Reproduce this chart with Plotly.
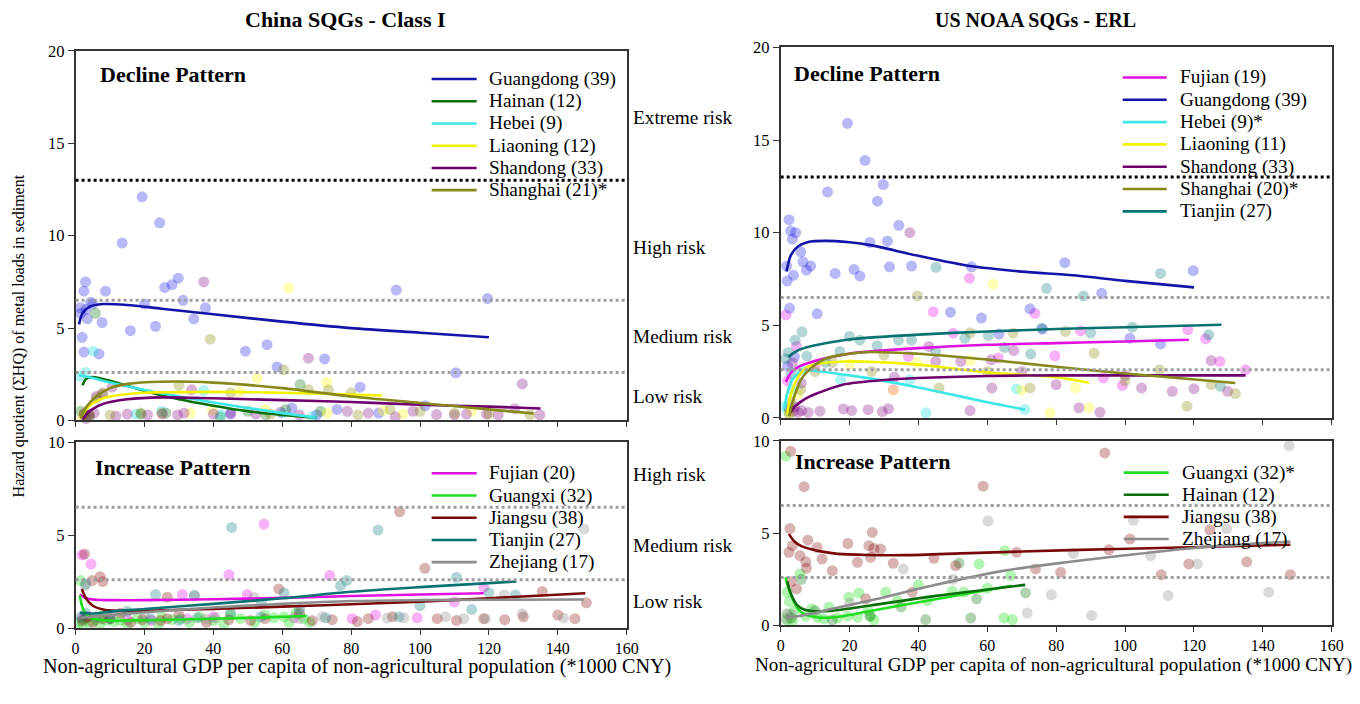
import plotly.graph_objects as go

W, H = 1360, 704          # browser window
OFF = 8                   # default body margin of the page
FIG_W, FIG_H = W - 2 * OFF, H - 2 * OFF
# measured mapping of the photographed page (window px -> picture px)
SX, BX = 0.988, 3.5
SY, BY = 0.976, 8.2
FONT = "Liberation Serif"

# ---------------- axes / labels ----------------
X_TICKS = [0, 20, 40, 60, 80, 100, 120, 140, 160]
Y_TICKS_TOP = [0, 5, 10, 15, 20]
Y_TICKS_BOT = [0, 5, 10]
EXTREME_LINE = 13
HIGH_LINE = 6.5
LOW_LINE = 2.6
RISK_LABELS_TOP = ["Extreme risk", "High risk", "Medium risk", "Low risk"]
RISK_LABELS_BOT = ["High risk", "Medium risk", "Low risk"]
TITLE_LEFT = "China SQGs - Class I"
TITLE_RIGHT = "US NOAA SQGs - ERL"
X_TITLE = "Non-agricultural GDP per capita of non-agricultural population (*1000 CNY)"
Y_TITLE = "Hazard quotient (ΣHQ) of metal loads in sediment"

# ---------------- China, decline pattern ----------------
cn_dec_guangdong_pts = [(19.3, 12.1), (24.4, 10.7), (13.5, 9.6), (2.9, 7.5), (2.4, 7.0), (8.7, 7.0), (25.9, 7.2),
                        (28, 7.35), (29.8, 7.7), (31.2, 6.5), (37.7, 6.1), (34.3, 5.5), (1.45, 6.1), (4.35, 6.4),
                        (3.4, 5.5), (1.9, 4.5), (2.4, 3.7), (6.8, 3.6), (7.7, 5.3), (15.9, 4.86), (23.2, 5.1),
                        (49.3, 3.75), (55.6, 4.1), (58.5, 2.9), (72.3, 3.33), (82.6, 1.8), (93.1, 7.06), (75.9, 0.6),
                        (62.8, 0.67), (119.6, 6.6), (110.4, 2.58), (101.5, 0.8), (1.5, 5.8), (3, 6.0), (20, 6.3),
                        (45, 0.35), (70, 0.3), (88, 0.4), (5, 6.3)]
cn_dec_guangdong_fit = [(1, 5.2), (2, 5.8), (4, 6.15), (8, 6.3), (15, 6.25), (25, 6.05), (40, 5.75), (60, 5.35),
                        (80, 5.0), (100, 4.75), (120, 4.5)]
cn_dec_hainan_pts = [(5.8, 5.8), (26.2, 0.4), (55.2, 0.3), (65.2, 1.95), (71.1, 0.5), (1.5, 0.5), (2.5, 0.3),
                     (4, 0.2), (19, 0.35), (42, 0.2), (61, 0.6), (50, 0.5)]
cn_dec_hainan_fit = [(2, 1.9), (3, 2.25), (5, 2.35), (10, 2.15), (20, 1.6), (30, 1.15), (40, 0.8), (50, 0.5),
                     (60, 0.3), (70, 0.15)]
cn_dec_hebei_pts = [(5.1, 3.75), (1.2, 2.4), (17.5, 0.35), (37.2, 1.62), (42.1, 0.3), (68.7, 0.2), (3, 2.6),
                    (25, 0.5), (60, 0.4)]
cn_dec_hebei_fit = [(1, 2.45), (5, 2.3), (10, 2.05), (20, 1.65), (30, 1.3), (40, 0.97), (50, 0.68), (60, 0.4),
                    (70, 0.15)]
cn_dec_liaoning_pts = [(61.9, 7.17), (52.7, 2.29), (47.6, 1.57), (73, 2.07), (33.4, 0.4), (39.7, 0.55), (73.1, 0.4),
                       (89.3, 0.53), (95, 0.35), (115, 0.5), (2, 0.2), (55, 0.6)]
cn_dec_liaoning_fit = [(1.5, 0.1), (3, 0.6), (6, 1.05), (10, 1.3), (20, 1.5), (40, 1.55), (60, 1.5), (80, 1.4),
                       (89, 1.35)]
cn_dec_shandong_pts = [(37.2, 7.5), (67.6, 3.37), (129.7, 1.98), (33.7, 1.66), (10.6, 1.8), (7.7, 1.44), (2.5, 0.35),
                       (4.0, 0.3), (5.4, 0.4), (11.7, 0.25), (20.9, 0.3), (25.2, 0.35), (29.6, 0.3), (31.5, 0.4),
                       (45, 0.4), (52.3, 0.35), (59.5, 0.45), (78.9, 0.5), (92.8, 0.2), (104.8, 0.32), (113.5, 0.35),
                       (119.3, 0.35), (122.7, 0.3), (127.5, 0.64), (134.8, 0.3), (3, 0.1), (6, 1.3), (15, 0.35),
                       (40, 0.35), (85, 0.4), (65, 0.3), (98, 0.5), (110, 0.3)]
cn_dec_shandong_fit = [(2, 0.05), (4, 0.5), (8, 0.9), (15, 1.15), (25, 1.25), (40, 1.2), (60, 1.1), (80, 1.0),
                       (100, 0.85), (120, 0.75), (135, 0.65)]
cn_dec_shanghai_pts = [(39.1, 4.4), (60.4, 2.74), (67.6, 1.67), (73.4, 1.66), (91.3, 0.6), (131.9, 0.3), (18.9, 0.4),
                       (56.6, 0.35), (2.5, 0.4), (4, 0.3), (6, 1.2), (8, 1.5), (10, 0.3), (25, 0.4), (30, 1.9),
                       (45, 1.5), (80, 1.5), (100, 0.5), (110, 0.4), (120, 0.35), (82, 0.3)]
cn_dec_shanghai_fit = [(1.5, 0.1), (3, 0.7), (6, 1.3), (10, 1.75), (15, 1.98), (25, 2.1), (40, 2.05), (60, 1.75),
                       (80, 1.3), (100, 0.95), (120, 0.6), (133, 0.38)]

# ---------------- US, decline pattern ----------------
us_dec_fujian_pts = [(1.55, 5.56), (44.3, 5.74), (54.8, 7.54), (73.8, 5.65), (37.1, 3.32), (4.6, 3.86), (87.1, 4.7),
                     (118.2, 4.76), (123.4, 4.27), (127.5, 3.05), (135, 2.6), (93.7, 2.16), (99.2, 1.76), (50.1, 4.58),
                     (63.2, 3.24), (32.7, 1.53), (79.6, 3.36), (2, 2.0), (10, 2.8)]
us_dec_fujian_fit = [(1.5, 1.95), (3, 2.45), (5, 2.75), (8.5, 3.0), (15, 3.3), (21, 3.5), (40, 3.77), (60, 3.95),
                     (80, 4.04), (100, 4.13), (118.5, 4.22)]
us_dec_guangdong_pts = [(19.4, 15.9), (24.5, 13.9), (29.8, 12.6), (13.6, 12.2), (28.1, 11.7), (2.4, 10.7), (2.9, 10.1),
                        (4.35, 10.0), (3.4, 9.65), (34.3, 10.4), (25.9, 9.47), (31, 9.54), (5.8, 8.97), (6.5, 8.43),
                        (7.5, 7.98), (8.7, 8.2), (1.74, 8.2), (1.9, 7.39), (3.7, 7.7), (15.8, 7.8), (21.3, 8.02),
                        (23, 7.66), (31.6, 8.16), (38, 8.2), (55.4, 8.16), (82.5, 8.38), (2.6, 5.92), (10.6, 5.62),
                        (49.3, 5.71), (58.3, 5.39), (72.4, 5.89), (76, 4.8), (63.4, 4.53), (119.8, 7.95), (93.2, 6.73),
                        (101.4, 4.31), (110.3, 4.0), (2, 2.8), (4, 3.3)]
us_dec_guangdong_fit = [(1.7, 7.9), (3, 8.8), (5, 9.25), (8, 9.5), (13, 9.56), (20, 9.48), (26, 9.33), (40, 8.75),
                        (55, 8.2), (70, 7.9), (85, 7.7), (100, 7.4), (120, 7.05)]
us_dec_hebei_pts = [(42.2, 0.28), (68.5, 1.57), (70.9, 0.46), (1.3, 0.64), (37.5, 2.07), (3.4, 1.53), (17.4, 2.07),
                    (2, 0.4), (6, 2.6)]
us_dec_hebei_fit = [(1, 0.5), (2, 1.4), (3.5, 2.1), (5.5, 2.45), (7.5, 2.57), (12, 2.5), (20, 2.3), (28, 2.07),
                    (40, 1.65), (50, 1.25), (60, 0.85), (71, 0.45)]
us_dec_liaoning_pts = [(61.7, 7.22), (78.2, 0.28), (89.5, 0.55), (85.6, 1.62), (39.5, 3.0), (32.7, 1.5), (2.5, 0.3),
                       (5, 1.3), (20, 2.9), (55, 3.1), (70, 1.5)]
us_dec_liaoning_fit = [(1.9, 0.2), (3, 1.3), (4.6, 2.05), (6, 2.45), (8.5, 2.82), (18, 3.05), (30, 3.0), (40, 2.88),
                       (60, 2.46), (80, 2.2), (89.5, 1.9)]
us_dec_shandong_pts = [(3.7, 0.37), (5.1, 0.3), (6.1, 0.4), (11.4, 0.37), (18.2, 0.49), (20.6, 0.4), (25.4, 0.45),
                       (29.5, 0.35), (31.3, 0.5), (37.5, 10.0), (61.3, 1.62), (67.7, 3.63), (61.1, 3.14), (43, 3.86),
                       (52.3, 3.05), (45, 3.05), (104.8, 1.62), (113.7, 1.44), (120, 1.58), (129.8, 1.44),
                       (86.6, 0.55), (92.7, 0.31), (3.4, 2.97), (6, 1.89), (2.5, 0.5), (4, 0.6), (8, 0.3), (33, 2.2),
                       (70, 2.5), (100, 2.3), (125, 3.1), (80, 1.8), (55, 0.4)]
us_dec_shandong_fit = [(2.7, 0.3), (4, 0.6), (6, 0.9), (8.5, 1.17), (13, 1.5), (18, 1.8), (30, 2.05), (40, 2.16),
                       (60, 2.27), (80, 2.3), (100, 2.3), (135, 2.3)]
us_dec_shanghai_pts = [(39.7, 6.59), (46, 1.62), (26.4, 2.52), (72.4, 1.62), (67.5, 4.58), (91, 3.5), (118, 0.64),
                       (132, 1.32), (82.7, 4.67), (5.8, 1.53), (3, 0.9), (2.5, 0.2), (10, 2.5), (15, 3.0), (55, 4.6),
                       (100, 2.0), (110, 2.6), (60, 2.5), (30, 3.4), (125, 1.8)]
us_dec_shanghai_fit = [(2.5, 0.1), (3.5, 0.9), (4.6, 1.5), (6, 2.1), (8.5, 2.64), (13, 3.2), (24, 3.55), (40, 3.47),
                       (60, 3.15), (80, 2.77), (100, 2.4), (132, 1.89)]
us_dec_tianjin_pts = [(45.1, 8.13), (77.2, 7.0), (6.2, 4.65), (4.2, 4.2), (2.2, 3.54), (7.6, 3.34), (17.2, 3.59),
                      (23, 4.2), (34.2, 4.2), (38, 4.2), (53.5, 4.3), (60.3, 4.45), (75.8, 4.85), (110.3, 7.8),
                      (102.1, 4.9), (87.9, 6.59), (124.3, 4.49), (127.7, 1.71), (72.6, 3.45), (28, 3.9), (13, 3.0),
                      (3, 2.4), (45, 3.6), (90, 4.6), (65, 3.8), (1.5, 3.2), (20, 4.4)]
us_dec_tianjin_fit = [(2.2, 3.3), (5, 3.65), (8.5, 3.86), (15, 4.1), (21, 4.26), (40, 4.5), (60, 4.67), (80, 4.8),
                      (100, 4.9), (128, 5.03)]

# ---------------- China, increase pattern ----------------
cn_inc_fujian_pts = [(1.9, 3.93), (4.5, 3.44), (54.7, 5.59), (44.5, 2.87), (73.8, 2.82), (31, 1.8), (49.8, 1.8),
                     (118.5, 2.2), (99.2, 0.55), (1.9, 0.5), (15, 0.45), (32.4, 0.5), (63.4, 0.55), (80.3, 0.5),
                     (87.1, 0.7), (3, 0.6), (10, 0.6), (22, 0.4), (40, 0.6), (110, 1.4)]
cn_inc_fujian_fit = [(1.2, 1.8), (3, 1.6), (6, 1.52), (10, 1.5), (20, 1.5), (40, 1.55), (60, 1.62), (80, 1.72),
                     (100, 1.8), (118.5, 1.87)]
cn_inc_guangxi_pts = [(1.45, 2.55), (5.8, 0.45), (11.1, 0.35), (13.1, 0.4), (17.9, 0.5), (28, 0.45), (30.5, 0.5),
                      (47.9, 0.5), (57.6, 0.55), (60.5, 0.6), (66.3, 0.5), (1, 0.3), (2, 0.2), (3, 0.5), (4, 0.3),
                      (7, 0.2), (9, 0.4), (15, 0.2), (20, 0.3), (24, 0.2), (33, 0.3), (36, 0.6), (40, 0.4), (43, 0.2),
                      (52, 0.3), (55, 0.7), (62, 0.3), (64, 0.8), (68, 0.3), (8, 0.7), (25, 0.6), (45, 0.7)]
cn_inc_guangxi_fit = [(1.2, 1.75), (2, 1.1), (3, 0.75), (5, 0.5), (10, 0.4), (20, 0.42), (40, 0.5), (55, 0.57),
                      (67, 0.65)]
cn_inc_jiangsu_pts = [(2.6, 3.98), (4.8, 2.55), (7.1, 2.76), (7.9, 2.5), (26.6, 1.66), (59, 2.1), (94.1, 6.25),
                      (101.4, 3.21), (135.5, 1.96), (148.3, 1.36), (110.6, 0.41), (118.5, 0.5), (124.6, 0.45),
                      (7.7, 0.5), (19.4, 0.45), (24.7, 0.4), (26.6, 0.5), (44.5, 0.45), (50.8, 0.4), (68.7, 0.4),
                      (74.5, 0.45), (81.8, 0.35), (2, 0.4), (3.5, 0.6), (5, 0.3), (10, 0.5), (13, 0.8), (16, 0.3),
                      (30, 0.7), (38, 0.3), (55, 0.5), (65, 0.8), (85, 0.5), (92, 0.6), (105, 0.5), (130, 0.6),
                      (140, 0.7), (145, 0.5)]
cn_inc_jiangsu_fit = [(1.8, 2.1), (3, 1.6), (5, 1.2), (8, 1.0), (12, 0.93), (20, 0.93), (40, 1.03), (60, 1.15),
                      (80, 1.28), (100, 1.42), (120, 1.6), (148, 1.87)]
cn_inc_tianjin_pts = [(45.3, 5.41), (87.8, 5.27), (110.6, 2.73), (78.7, 2.55), (76.9, 2.28), (23.2, 1.8), (34.5, 1.75),
                      (53.9, 1.36), (60.5, 1.89), (2.9, 2.37), (21.8, 0.5), (35.3, 0.55), (53.7, 0.6), (72.6, 0.55),
                      (93.9, 0.6), (127.7, 1.78), (3, 0.8), (6, 0.6), (10, 0.5), (15, 0.9), (30, 0.4), (45, 0.8),
                      (65, 1.0), (100, 1.2), (115, 1.0), (1.5, 0.6), (120, 1.9)]
cn_inc_tianjin_fit = [(1.2, 0.82), (5, 0.78), (10, 0.88), (20, 1.02), (40, 1.3), (60, 1.6), (80, 1.95), (100, 2.2),
                      (128, 2.5)]
cn_inc_zhejiang_pts = [(147.6, 5.32), (124.5, 1.78), (90.5, 0.54), (95.3, 0.55), (107.4, 0.6), (112.7, 0.5),
                       (129.7, 0.77), (141.7, 0.54), (37.7, 0.5), (40.6, 0.55), (71.6, 0.6), (51.8, 1.66),
                       (34.5, 1.75), (2.9, 2.3), (119, 0.5), (65, 0.5), (20, 0.6)]
cn_inc_zhejiang_fit = [(1.5, 0.55), (10, 0.7), (20, 0.85), (40, 1.1), (60, 1.3), (80, 1.45), (100, 1.5), (120, 1.52),
                       (147.6, 1.53)]

# ---------------- US, increase pattern ----------------
us_inc_guangxi_pts = [(1.45, 9.17), (57.6, 3.33), (65.1, 4.05), (66.8, 2.7), (5.6, 2.79), (1.9, 1.8), (19.8, 1.53),
                      (22.7, 1.76), (30.5, 1.8), (49.8, 1.85), (53.2, 1.8), (60, 2.02), (64.8, 0.4), (67.3, 0.32),
                      (1.9, 0.3), (3.5, 0.25), (7.3, 0.5), (10.6, 0.45), (12.6, 0.35), (16.5, 0.4), (19.4, 0.5),
                      (22.3, 0.45), (26.1, 0.5), (27.1, 0.3), (33.9, 1.35), (42.6, 1.35), (25.4, 0.81), (2.5, 1.3),
                      (4, 0.8), (9, 0.9), (14, 1.0), (40, 2.2)]
us_inc_guangxi_fit = [(1.4, 2.6), (2.5, 1.9), (3.9, 1.26), (5, 0.9), (6.8, 0.63), (11.6, 0.42), (18, 0.5),
                      (26, 0.78), (45, 1.42), (67, 2.15)]
us_inc_hainan_pts = [(51.8, 3.38), (71.1, 1.76), (56.9, 1.44), (42.1, 0.32), (55.2, 0.4), (25.9, 0.51), (6, 2.5),
                     (1.9, 0.63), (3, 0.4), (10, 0.8), (35, 1.0), (15, 0.3)]
us_inc_hainan_fit = [(1.9, 2.4), (3, 1.7), (4.8, 1.1), (7, 0.85), (10, 0.77), (15, 0.8), (26, 1.08), (45, 1.6),
                     (71, 2.2)]
us_inc_jiangsu_pts = [(2.9, 9.44), (6.8, 7.52), (58.8, 7.55), (2.7, 5.25), (7.9, 4.62), (10.6, 4.23), (2.4, 3.96),
                      (3.4, 4.32), (5.6, 3.78), (7.3, 3.45), (7.5, 3.1), (19.5, 4.44), (26.6, 5.04), (25.6, 4.32),
                      (27.1, 4.17), (29, 4.14), (26.1, 3.69), (15, 2.97), (22.3, 3.42), (32.7, 3.37), (44.5, 3.64),
                      (50.8, 3.24), (68.5, 3.96), (3.1, 2.37), (4.6, 1.98), (24.7, 1.44), (38.2, 1.8), (94.1, 9.35),
                      (95.3, 4.1), (101.4, 4.68), (124.6, 5.18), (118.5, 3.33), (110.5, 2.75), (135.3, 3.45),
                      (148, 2.75), (74, 3.06), (81.3, 2.88), (12, 3.6)]
us_inc_jiangsu_fit = [(2.4, 4.95), (4, 4.55), (6, 4.3), (8.7, 4.14), (12, 4.0), (16.5, 3.88), (25, 3.82), (36, 3.81),
                      (55, 3.92), (84, 4.08), (110, 4.2), (148, 4.37)]
us_inc_zhejiang_pts = [(60.2, 5.66), (35.6, 3.06), (71.6, 0.67), (78.6, 1.66), (147.6, 9.75), (102.4, 5.7),
                       (129.5, 5.25), (107.4, 3.78), (121, 3.33), (112.5, 1.62), (90.3, 0.54), (141.7, 1.8),
                       (1.45, 0.36), (3, 0.6), (20, 1.2), (50, 2.5), (85, 3.9)]
us_inc_zhejiang_fit = [(1.5, 0.45), (5, 0.5), (8.7, 0.63), (15, 0.9), (26, 1.35), (45, 2.2), (65, 2.97), (84, 3.45),
                       (100, 3.8), (120, 4.2), (148, 4.55)]

# ---------------- styles ----------------
LINE_COLORS = {
    "Fujian": "#e010e0", "Guangdong": "#1414a8", "Hainan": "#0a6e0a", "Hebei": "#3ee6e6",
    "Liaoning": "#f2f200", "Shandong": "#6e006e", "Shanghai": "#87871a", "Tianjin": "#0a7272",
    "Guangxi": "#20dd20", "Jiangsu": "#7a0808", "Zhejiang": "#8c8c8c",
}
POINT_RGB = {
    "Fujian": (230, 0, 230), "Guangdong": (20, 20, 230), "Hainan": (0, 110, 0), "Hebei": (0, 220, 220),
    "Liaoning": (255, 255, 0), "Shandong": (128, 0, 128), "Shanghai": (128, 128, 0), "Tianjin": (0, 120, 120),
    "Guangxi": (0, 220, 0), "Jiangsu": (130, 0, 0), "Zhejiang": (130, 130, 130),
}

PANELS = [
    dict(xa="x", ya="y", title="Decline Pattern", series=[
        ("Guangdong", "Guangdong (39)", cn_dec_guangdong_pts, cn_dec_guangdong_fit),
        ("Hainan", "Hainan (12)", cn_dec_hainan_pts, cn_dec_hainan_fit),
        ("Hebei", "Hebei (9)", cn_dec_hebei_pts, cn_dec_hebei_fit),
        ("Liaoning", "Liaoning (12)", cn_dec_liaoning_pts, cn_dec_liaoning_fit),
        ("Shandong", "Shandong (33)", cn_dec_shandong_pts, cn_dec_shandong_fit),
        ("Shanghai", "Shanghai (21)*", cn_dec_shanghai_pts, cn_dec_shanghai_fit)],
         dom_x=(75, 626), dom_y=(50, 421), yrange=20, yticks=Y_TICKS_TOP, lines=[EXTREME_LINE, HIGH_LINE, LOW_LINE],
         title_pos=(97, 74), legend=(431, 476, 486, 78.3, 22.3)),
    dict(xa="x2", ya="y2", title="Decline Pattern", series=[
        ("Fujian", "Fujian (19)", us_dec_fujian_pts, us_dec_fujian_fit),
        ("Guangdong", "Guangdong (39)", us_dec_guangdong_pts, us_dec_guangdong_fit),
        ("Hebei", "Hebei (9)*", us_dec_hebei_pts, us_dec_hebei_fit),
        ("Liaoning", "Liaoning (11)", us_dec_liaoning_pts, us_dec_liaoning_fit),
        ("Shandong", "Shandong (33)", us_dec_shandong_pts, us_dec_shandong_fit),
        ("Shanghai", "Shanghai (20)*", us_dec_shanghai_pts, us_dec_shanghai_fit),
        ("Tianjin", "Tianjin (27)", us_dec_tianjin_pts, us_dec_tianjin_fit)],
         dom_x=(780, 1331), dom_y=(46.5, 418.5), yrange=20, yticks=Y_TICKS_TOP,
         lines=[EXTREME_LINE, HIGH_LINE, LOW_LINE],
         title_pos=(791, 73), legend=(1122, 1166, 1177, 76.7, 22.4)),
    dict(xa="x3", ya="y3", title="Increase Pattern", series=[
        ("Fujian", "Fujian (20)", cn_inc_fujian_pts, cn_inc_fujian_fit),
        ("Guangxi", "Guangxi (32)", cn_inc_guangxi_pts, cn_inc_guangxi_fit),
        ("Jiangsu", "Jiangsu (38)", cn_inc_jiangsu_pts, cn_inc_jiangsu_fit),
        ("Tianjin", "Tianjin (27)", cn_inc_tianjin_pts, cn_inc_tianjin_fit),
        ("Zhejiang", "Zhejiang (17)", cn_inc_zhejiang_pts, cn_inc_zhejiang_fit)],
         dom_x=(75, 626), dom_y=(442.7, 629.3), yrange=10, yticks=Y_TICKS_BOT, lines=[HIGH_LINE, LOW_LINE],
         title_pos=(92, 468), legend=(431, 476, 486, 474, 22.3)),
    dict(xa="x4", ya="y4", title="Increase Pattern", series=[
        ("Guangxi", "Guangxi (32)*", us_inc_guangxi_pts, us_inc_guangxi_fit),
        ("Hainan", "Hainan (12)", us_inc_hainan_pts, us_inc_hainan_fit),
        ("Jiangsu", "Jiangsu (38)", us_inc_jiangsu_pts, us_inc_jiangsu_fit),
        ("Zhejiang", "Zhejiang (17)", us_inc_zhejiang_pts, us_inc_zhejiang_fit)],
         dom_x=(780, 1331), dom_y=(441.5, 626.7), yrange=10, yticks=Y_TICKS_BOT, lines=[HIGH_LINE, LOW_LINE],
         title_pos=(792, 462), legend=(1123, 1168, 1179, 473.3, 22.2)),
]


def fx(px):
    # wanted picture pixel -> paper fraction
    return ((px - BX) / SX - OFF) / FIG_W


def fy(py):
    return 1 - ((py - BY) / SY - OFF) / FIG_H


fig = go.Figure()
shapes = []
annotations = []
layout_axes = {}
TXT = dict(family=FONT, color="black")

for i, p in enumerate(PANELS):
    xa, ya = p["xa"], p["ya"]
    for key, label, pts, fit in p["series"]:
        r, g, b = POINT_RGB[key]
        fig.add_trace(go.Scatter(
            x=[q[0] for q in pts], y=[q[1] for q in pts], mode="markers", xaxis=xa, yaxis=ya,
            marker=dict(size=11, color=f"rgba({r},{g},{b},0.3)", line=dict(width=0)),
            showlegend=False, cliponaxis=False, hoverinfo="skip"))
    for key, label, pts, fit in p["series"]:
        fig.add_trace(go.Scatter(
            x=[q[0] for q in fit], y=[q[1] for q in fit], mode="lines", xaxis=xa, yaxis=ya, name=label,
            line=dict(color=LINE_COLORS[key], width=2.6, shape="spline", smoothing=0.8),
            showlegend=False))
    for yv in p["lines"]:
        col = "black" if yv == EXTREME_LINE else "#9e9e9e"
        shapes.append(dict(type="line", xref=f"{xa} domain", yref=ya, x0=0, x1=1, y0=yv, y1=yv,
                           line=dict(color=col, width=3, dash="dot"), layer="above"))
    annotations.append(dict(text=f"<b>{p['title']}</b>", xref="paper", yref="paper",
                            x=fx(p["title_pos"][0]), y=fy(p["title_pos"][1]), xanchor="left", yanchor="middle",
                            showarrow=False, font=dict(size=22, **TXT)))
    lx0, lx1, tx, ly0, dy = p["legend"]
    for j, (key, label, pts, fit) in enumerate(p["series"]):
        yy = ly0 + j * dy
        shapes.append(dict(type="line", xref="paper", yref="paper", x0=fx(lx0), x1=fx(lx1), y0=fy(yy), y1=fy(yy),
                           line=dict(color=LINE_COLORS[key], width=2.6)))
        annotations.append(dict(text=label, xref="paper", yref="paper", x=fx(tx), y=fy(yy), xanchor="left",
                                yanchor="middle", showarrow=False, font=dict(size=19.3, **TXT)))
    sfx = "" if i == 0 else str(i + 1)
    bottom = i >= 2
    layout_axes["xaxis" + sfx] = dict(
        domain=[fx(p["dom_x"][0]), fx(p["dom_x"][1])], anchor=ya, range=[0, 160], tickvals=X_TICKS,
        showticklabels=bottom, ticks="outside", ticklen=5, tickwidth=1.3, tickcolor="#333",
        showline=True, linecolor="#333", linewidth=1.6, mirror=True, showgrid=False, zeroline=False,
        tickfont=dict(size=16, **TXT), fixedrange=True)
    layout_axes["yaxis" + sfx] = dict(
        domain=[fy(p["dom_y"][1]), fy(p["dom_y"][0])], anchor=xa, range=[0, p["yrange"]], tickvals=p["yticks"],
        ticks="outside", ticklen=6, tickwidth=1.3, tickcolor="#333",
        showline=True, linecolor="#333", linewidth=1.6, mirror=True, showgrid=False, zeroline=False,
        tickfont=dict(size=16.5, **TXT), fixedrange=True)

for label, py in zip(RISK_LABELS_TOP, [116.7, 247.3, 336.7, 397.3]):
    annotations.append(dict(text=label, xref="paper", yref="paper", x=fx(630), y=fy(py), xanchor="left",
                            yanchor="middle", showarrow=False, font=dict(size=19.3, **TXT)))
for label, py in zip(RISK_LABELS_BOT, [475, 546, 602.7]):
    annotations.append(dict(text=label, xref="paper", yref="paper", x=fx(630), y=fy(py), xanchor="left",
                            yanchor="middle", showarrow=False, font=dict(size=19.3, **TXT)))

annotations.append(dict(text=f"<b>{TITLE_LEFT}</b>", xref="paper", yref="paper", x=fx(345), y=fy(19),
                        xanchor="center", yanchor="middle", showarrow=False, font=dict(size=22, **TXT)))
annotations.append(dict(text=f"<b>{TITLE_RIGHT}</b>", xref="paper", yref="paper", x=fx(1035), y=fy(19),
                        xanchor="center", yanchor="middle", showarrow=False, font=dict(size=20, **TXT)))
annotations.append(dict(text=X_TITLE, xref="paper", yref="paper", x=fx(356), y=fy(667.5), xanchor="center",
                        yanchor="middle", showarrow=False, font=dict(size=20.2, **TXT)))
annotations.append(dict(text=X_TITLE, xref="paper", yref="paper", x=fx(1053), y=fy(666), xanchor="center",
                        yanchor="middle", showarrow=False, font=dict(size=19.2, **TXT)))
annotations.append(dict(text=Y_TITLE, xref="paper", yref="paper", x=fx(18), y=fy(336), xanchor="center",
                        yanchor="middle", textangle=-90, showarrow=False, font=dict(size=16, **TXT)))

fig.update_layout(
    width=FIG_W, height=FIG_H, margin=dict(l=0, r=0, t=0, b=0), paper_bgcolor="white", plot_bgcolor="white",
    showlegend=False, shapes=shapes, annotations=annotations, font=dict(family=FONT, color="black"),
    **layout_axes)

fig.write_html("out.html", config={"displayModeBar": False})
